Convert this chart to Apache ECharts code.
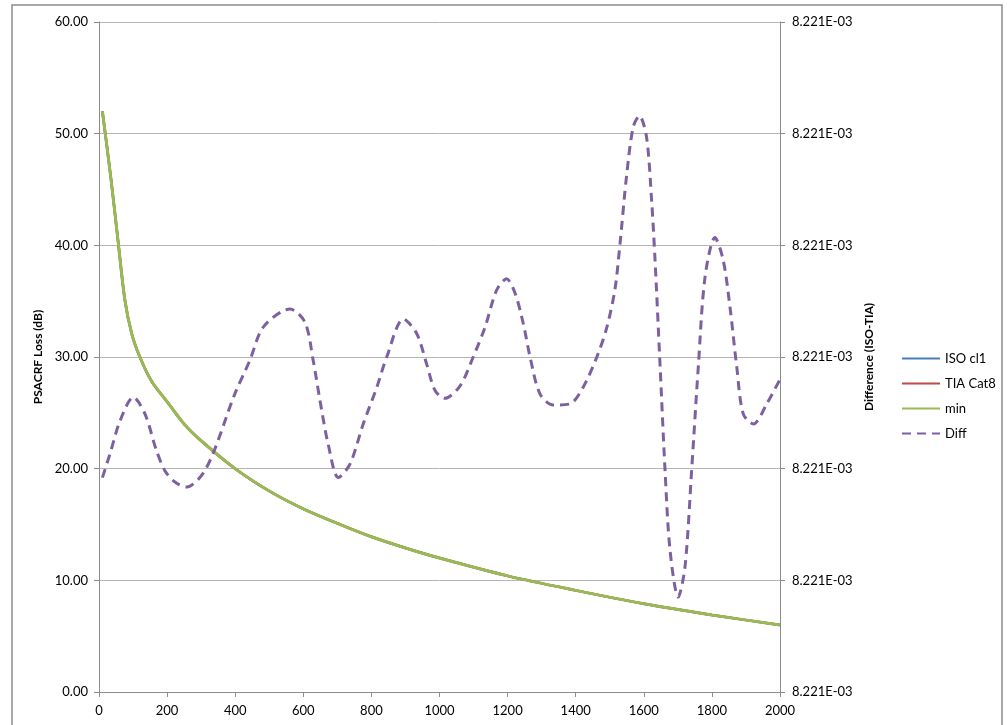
<!DOCTYPE html>
<html>
<head>
<meta charset="utf-8">
<script src="https://cdn.jsdelivr.net/npm/echarts@6/dist/echarts.min.js"></script>
<style>
  html, body { margin: 0; padding: 0; background: #fff; }
  #chart { width: 1007px; height: 725px; }
</style>
</head>
<body>
<div id="chart"></div>
<script>
// frequency (MHz) for the loss curves
const freqLoss = [10, 35, 57, 76, 96, 120, 155, 200, 250, 300, 400, 500, 600, 700, 800, 900, 1000, 1200, 1400, 1600, 1800, 2000];
const isoCl1 = [52.0, 46.0, 40.1, 35.1, 32.1, 30.0, 27.8, 26.0, 24.0, 22.5, 20.0, 18.0, 16.4, 15.1, 13.9, 12.9, 12.0, 10.4, 9.1, 7.9, 6.9, 6.0];
const tiaCat8 = [52.0, 46.0, 40.1, 35.1, 32.1, 30.0, 27.8, 26.0, 24.0, 22.5, 20.0, 18.0, 16.4, 15.1, 13.9, 12.9, 12.0, 10.4, 9.1, 7.9, 6.9, 6.0];
const minLoss = [52.0, 46.0, 40.1, 35.1, 32.1, 30.0, 27.8, 26.0, 24.0, 22.5, 20.0, 18.0, 16.4, 15.1, 13.9, 12.9, 12.0, 10.4, 9.1, 7.9, 6.9, 6.0];

// Diff is read against the right axis, whose ticks all print 8.221E-03;
// values here are in the same 0..60 grid units as the left axis
const freqDiff = [10, 32, 62, 101, 135, 169, 194, 223, 257, 316, 399, 443, 483, 561, 605, 629, 649, 673, 703, 737, 776, 816, 845, 894, 933, 962, 987, 1016, 1060, 1099, 1134, 1168, 1197, 1222, 1246, 1266, 1295, 1334, 1383, 1422, 1462, 1491, 1515, 1530, 1550, 1569, 1587, 1608, 1623, 1633, 1648, 1662, 1677, 1701, 1721, 1741, 1760, 1780, 1809, 1833, 1853, 1873, 1892, 1922, 1961, 2000];
const diffVals = [19.2, 21.3, 24.3, 26.4, 24.9, 21.6, 19.8, 18.8, 18.35, 20.1, 26.7, 29.7, 32.7, 34.3, 33.1, 29.7, 26.1, 22.2, 19.2, 20.4, 24.0, 27.3, 30.0, 33.4, 32.1, 29.4, 27.0, 26.3, 27.4, 30.0, 32.7, 36.0, 37.0, 35.7, 33.0, 30.0, 26.7, 25.7, 25.8, 27.3, 30.0, 32.6, 36.0, 40.1, 46.4, 50.6, 51.6, 49.7, 44.0, 38.7, 29.1, 20.1, 12.7, 8.5, 11.2, 20.1, 29.1, 37.2, 40.7, 38.7, 34.5, 29.1, 24.9, 24.0, 25.8, 28.0];
const rightTickLabel = '8.221E-03';

const fontFamily = 'Lato, "Open Sans", sans-serif';
const pairs = (xs, ys) => xs.map((x, i) => [x, ys[i]]);

const chart = echarts.init(document.getElementById('chart'));

chart.setOption({
  backgroundColor: '#fff',
  animation: false,
  textStyle: { fontFamily },
  graphic: [{
    type: 'rect',
    shape: { x: 12, y: 5, width: 990, height: 740 },
    style: { fill: 'none', stroke: '#8c8c8c', lineWidth: 1.5 },
    silent: true,
  }],
  grid: { left: 99, right: 227, top: 22, bottom: 33 },
  legend: {
    orient: 'vertical',
    left: 896,
    top: 347,
    itemWidth: 38,
    itemHeight: 12,
    itemGap: 12,
    itemStyle: { opacity: 0 },
    textStyle: { fontSize: 13, color: '#000', fontFamily },
    data: ['ISO cl1', 'TIA Cat8', 'min', 'Diff'],
  },
  xAxis: {
    type: 'value',
    min: 0,
    max: 2000,
    interval: 200,
    axisLine: { lineStyle: { color: '#8c8c8c' } },
    axisTick: { length: 5, lineStyle: { color: '#8c8c8c' } },
    axisLabel: { color: '#000', fontSize: 13, margin: 12, formatter: (v) => String(v) },
    splitLine: { show: false },
  },
  yAxis: [
    {
      type: 'value',
      min: 0,
      max: 60,
      interval: 10,
      name: 'PSACRF Loss (dB)',
      nameLocation: 'middle',
      nameGap: 50,
      nameTextStyle: { fontWeight: 'bold', fontSize: 12, color: '#000' },
      axisLine: { show: true, lineStyle: { color: '#8c8c8c' } },
      axisTick: { show: true, length: 5, lineStyle: { color: '#8c8c8c' } },
      axisLabel: { color: '#000', fontSize: 13, margin: 11, formatter: (v) => v.toFixed(2) },
      splitLine: { lineStyle: { color: '#b5b5b5' } },
    },
    {
      type: 'value',
      min: 0,
      max: 60,
      interval: 10,
      position: 'right',
      name: 'Difference (ISO-TIA)',
      nameLocation: 'middle',
      nameGap: 80,
      nameRotate: 90,
      nameTextStyle: { fontWeight: 'bold', fontSize: 12, color: '#000' },
      axisLine: { show: true, lineStyle: { color: '#8c8c8c' } },
      axisTick: { show: true, length: 5, lineStyle: { color: '#8c8c8c' } },
      axisLabel: { color: '#000', fontSize: 13, margin: 12, formatter: () => rightTickLabel },
      splitLine: { show: false },
    },
  ],
  series: [
    {
      name: 'ISO cl1',
      type: 'line',
      data: pairs(freqLoss, isoCl1),
      smooth: 0.3,
      symbol: 'none',
      lineStyle: { color: '#4a7ebb', width: 2.5 },
      itemStyle: { color: '#4a7ebb' },
    },
    {
      name: 'TIA Cat8',
      type: 'line',
      data: pairs(freqLoss, tiaCat8),
      smooth: 0.3,
      symbol: 'none',
      lineStyle: { color: '#be4b48', width: 2.5 },
      itemStyle: { color: '#be4b48' },
    },
    {
      name: 'min',
      type: 'line',
      data: pairs(freqLoss, minLoss),
      smooth: 0.3,
      symbol: 'none',
      lineStyle: { color: '#98b954', width: 3 },
      itemStyle: { color: '#98b954' },
    },
    {
      name: 'Diff',
      type: 'line',
      yAxisIndex: 1,
      data: pairs(freqDiff, diffVals),
      smooth: 0.3,
      symbol: 'none',
      lineStyle: { color: '#7d60a0', width: 3, type: [9, 6] },
      itemStyle: { color: '#7d60a0' },
    },
  ],
});
</script>
</body>
</html>
